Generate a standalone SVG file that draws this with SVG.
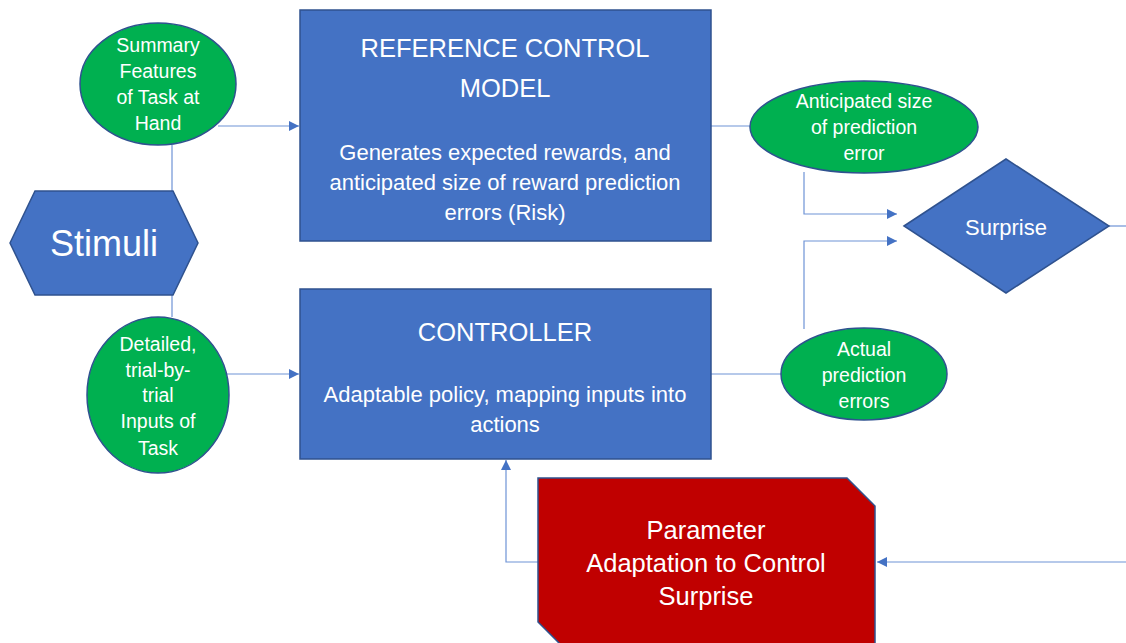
<svg xmlns="http://www.w3.org/2000/svg" width="1126" height="643" viewBox="0 0 1126 643">
<style>
.blue{fill:#4472C4;stroke:#2F528F;stroke-width:1.5}
.green{fill:#00B050;stroke:#2F528F;stroke-width:1.5}
.red{fill:#C00000;stroke:#2F528F;stroke-width:1.5}
text{font-family:"Liberation Sans",Arial,sans-serif;fill:#fff;text-anchor:middle;dominant-baseline:central}
.big{font-size:25.5px}
.mid{font-size:22px}
.sm{font-size:19.5px}
.red-t{font-size:25.5px}
.conn path{fill:none;stroke:#6E93D6;stroke-width:1.2}
</style>
<defs>
<marker id="arr" viewBox="0 0 10 10" refX="10" refY="5" markerWidth="10" markerHeight="10" markerUnits="userSpaceOnUse" orient="auto">
<path d="M0,0 L10,5 L0,10 z" fill="#4472C4"/>
</marker>
</defs>
<rect width="1126" height="643" fill="#fff"/>
<g class="conn">
<path d="M218,126 H299" marker-end="url(#arr)"/>
<path d="M172,145 V191"/>
<path d="M172,295 V317"/>
<path d="M227,374 H299" marker-end="url(#arr)"/>
<path d="M711,126 H750"/>
<path d="M804,172 V214 H897" marker-end="url(#arr)"/>
<path d="M804,329 V241 H897" marker-end="url(#arr)"/>
<path d="M711,374 H781"/>
<path d="M1109,226 H1126"/>
<path d="M1126,562 H877" marker-end="url(#arr)"/>
<path d="M538,562 H506 V460" marker-end="url(#arr)"/>
</g>
<g id="ref">
<rect class="blue" x="300" y="10" width="411" height="231"/>
<text class="big" x="505" y="48">REFERENCE CONTROL</text>
<text class="big" x="505" y="88">MODEL</text>
<text class="mid" x="505" y="152">Generates expected rewards, and</text>
<text class="mid" x="505" y="182">anticipated size of reward prediction</text>
<text class="mid" x="505" y="212">errors (Risk)</text>
</g>
<g id="controller">
<rect class="blue" x="300" y="289" width="411" height="170"/>
<text class="big" x="505" y="332">CONTROLLER</text>
<text class="mid" x="505" y="394">Adaptable policy, mapping inputs into</text>
<text class="mid" x="505" y="424">actions</text>
</g>
<g id="summary">
<ellipse class="green" cx="158" cy="84" rx="78" ry="61"/>
<text class="sm" x="158" y="45">Summary</text>
<text class="sm" x="158" y="71">Features</text>
<text class="sm" x="158" y="97">of Task at</text>
<text class="sm" x="158" y="123">Hand</text>
</g>
<g id="stimuli">
<polygon class="blue" points="10,243 35,191 173,191 198,243 173,295 35,295"/>
<text x="104" y="243" style="font-size:36px">Stimuli</text>
</g>
<g id="detailed">
<ellipse class="green" cx="158" cy="395" rx="71" ry="78"/>
<text class="sm" x="158" y="344">Detailed,</text>
<text class="sm" x="158" y="370">trial-by-</text>
<text class="sm" x="158" y="395">trial</text>
<text class="sm" x="158" y="421">Inputs of</text>
<text class="sm" x="158" y="448">Task</text>
</g>
<g id="anticipated">
<ellipse class="green" cx="864" cy="127" rx="114" ry="46"/>
<text class="sm" x="864" y="101">Anticipated size</text>
<text class="sm" x="864" y="127">of prediction</text>
<text class="sm" x="864" y="153">error</text>
</g>
<g id="actual">
<ellipse class="green" cx="864" cy="374" rx="83" ry="46"/>
<text class="sm" x="864" y="349">Actual</text>
<text class="sm" x="864" y="375">prediction</text>
<text class="sm" x="864" y="401">errors</text>
</g>
<g id="surprise">
<polygon class="blue" points="904,226 1006,159 1109,226 1006,293"/>
<text x="1006" y="227" style="font-size:22px">Surprise</text>
</g>
<g id="adaptation">
<polygon class="red" points="538,478 847,478 875,506 875,650 566,650 538,622"/>
<text class="red-t" x="706" y="530">Parameter</text>
<text class="red-t" x="706" y="563">Adaptation to Control</text>
<text class="red-t" x="706" y="596">Surprise</text>
</g>
</svg>
